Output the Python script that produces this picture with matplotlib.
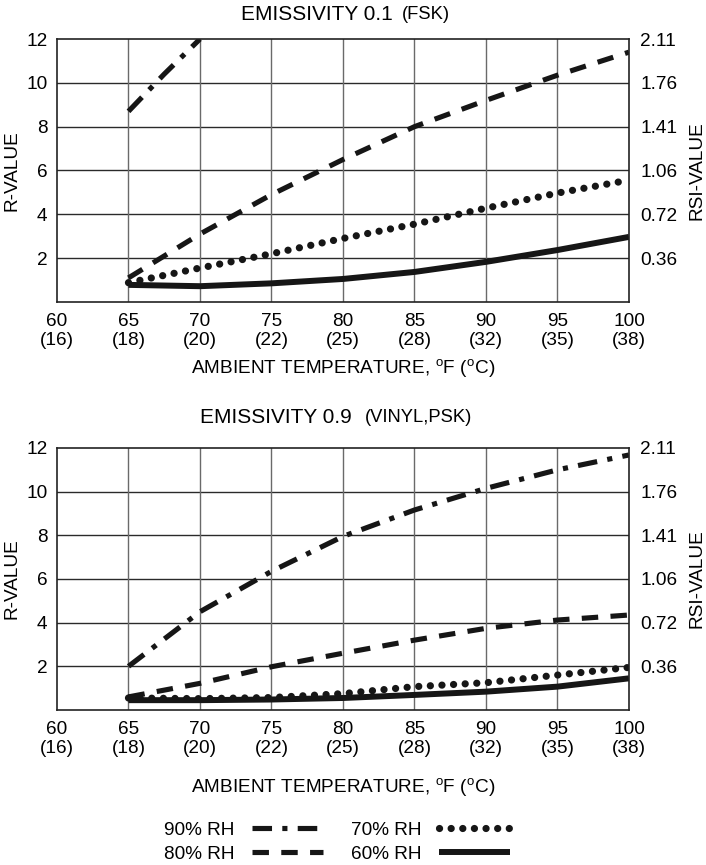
"""
R-value vs ambient temperature, two emissivity panels. Run: python plot.py
Output: out.png
"""
import matplotlib
matplotlib.use("Agg")
import matplotlib.pyplot as plt
from matplotlib.lines import Line2D

plt.rcParams["font.family"] = ["Liberation Sans", "DejaVu Sans"]
plt.rcParams["mathtext.fontset"] = "custom"
plt.rcParams["mathtext.rm"] = "Liberation Sans"
FS = 13.7
INK = "#161616"

# --- data ---
temp_f = [60, 65, 70, 75, 80, 85, 90, 95, 100]
temp_c = [16, 18, 20, 22, 25, 28, 32, 35, 38]
r_ticks = [2, 4, 6, 8, 10, 12]
rsi_labels = ["0.36", "0.72", "1.06", "1.41", "1.76", "2.11"]

x_full = [65, 70, 75, 80, 85, 90, 95, 100]

# emissivity 0.1 (FSK)
top_x90 = [65, 67.5, 70]
top_rh90 = [8.7, 10.4, 12.0]
top_rh80 = [1.1, 3.1, 4.9, 6.5, 8.0, 9.2, 10.35, 11.4]
top_rh70 = [0.88, 1.55, 2.2, 2.9, 3.55, 4.28, 4.97, 5.56]
top_rh60 = [0.78, 0.72, 0.85, 1.05, 1.37, 1.83, 2.37, 2.97]

# emissivity 0.9 (vinyl, PSK)
bot_rh90 = [2.0, 4.5, 6.35, 7.95, 9.16, 10.15, 11.0, 11.68]
bot_rh80 = [0.6, 1.22, 1.98, 2.6, 3.2, 3.74, 4.12, 4.35]
bot_rh70 = [0.55, 0.52, 0.57, 0.75, 1.07, 1.25, 1.6, 1.95]
bot_rh60 = [0.45, 0.45, 0.48, 0.55, 0.69, 0.84, 1.07, 1.45]

STY = {
    "90% RH": dict(lw=3.7, ls=(0, (3.8, 2.0, 1.0, 2.0)), dash_capstyle="butt"),
    "80% RH": dict(lw=3.7, ls=(0, (3.2, 2.4)), dash_capstyle="butt"),
    "70% RH": dict(lw=5.2, ls=(0, (0.01, 1.6)), dash_capstyle="round"),
    "60% RH": dict(lw=4.3, ls="-", solid_capstyle="butt"),
}

fig = plt.figure(figsize=(7.06, 8.65), dpi=100)


def panel(rect, series, xlabelpad):
    ax = fig.add_axes(rect)
    for lab, xs, ys in series:
        ax.plot(xs, ys, color=INK, **STY[lab])
    ax.set_xlim(60, 100); ax.set_ylim(0, 12)
    ax.set_xticks(temp_f)
    ax.set_xticklabels([f"{f}\n({c})" for f, c in zip(temp_f, temp_c)],
                       fontsize=FS, linespacing=1.15)
    ax.set_yticks(r_ticks)
    ax.set_yticklabels([str(t) for t in r_ticks], fontsize=FS)
    ax.tick_params(length=0, pad=7)
    ax.tick_params(axis="x", pad=8)
    for y in r_ticks[:-1]:
        ax.axhline(y, color="#2a2a2a", lw=1.0, zorder=0)
    for x in temp_f[1:-1]:
        ax.axvline(x, color="#6a6a6a", lw=1.0, zorder=0)
    for s in ax.spines.values():
        s.set_linewidth(1.2); s.set_color("#222222")
    ax.set_ylabel("R-VALUE", fontsize=FS, labelpad=4)
    ax.set_xlabel(r"AMBIENT TEMPERATURE, $^{\mathrm{o}}$F ($^{\mathrm{o}}$C)",
                  fontsize=FS, labelpad=xlabelpad)
    ax2 = ax.twinx()
    ax2.set_ylim(0, 12)
    ax2.set_yticks(r_ticks)
    ax2.set_yticklabels(rsi_labels, fontsize=FS)
    ax2.tick_params(length=0, pad=8)
    for s in ax2.spines.values():
        s.set_visible(False)
    ax2.set_ylabel("RSI-VALUE", fontsize=FS, labelpad=8)
    return ax


panel([0.0807, 0.6509, 0.8102, 0.3040], [
    ("90% RH", top_x90, top_rh90),
    ("80% RH", x_full, top_rh80),
    ("70% RH", x_full, top_rh70),
    ("60% RH", x_full, top_rh60),
], xlabelpad=6)

panel([0.0807, 0.1792, 0.8102, 0.3029], [
    ("90% RH", x_full, bot_rh90),
    ("80% RH", x_full, bot_rh80),
    ("70% RH", x_full, bot_rh70),
    ("60% RH", x_full, bot_rh60),
], xlabelpad=14)

# panel titles (two sizes)
fig.text(0.5567, 0.983, "EMISSIVITY 0.1", fontsize=15, ha="right", va="center")
fig.text(0.569, 0.983, "(FSK)", fontsize=13.2, ha="left", va="center")
fig.text(0.4986, 0.517, "EMISSIVITY 0.9", fontsize=15, ha="right", va="center")
fig.text(0.517, 0.517, "(VINYL,PSK)", fontsize=13.2, ha="left", va="center")

# legend
labels = ["90% RH", "80% RH", "70% RH", "60% RH"]
handles = [Line2D([], [], color=INK, **STY[l]) for l in labels]
fig.legend(handles, labels, ncol=2, loc="center", bbox_to_anchor=(0.4775, 0.0266),
           frameon=False, markerfirst=False, fontsize=FS, handlelength=3.75,
           handletextpad=0.9, columnspacing=1.45, labelspacing=0.35,
           borderpad=0, borderaxespad=0)

fig.savefig("out.png", dpi=100)
